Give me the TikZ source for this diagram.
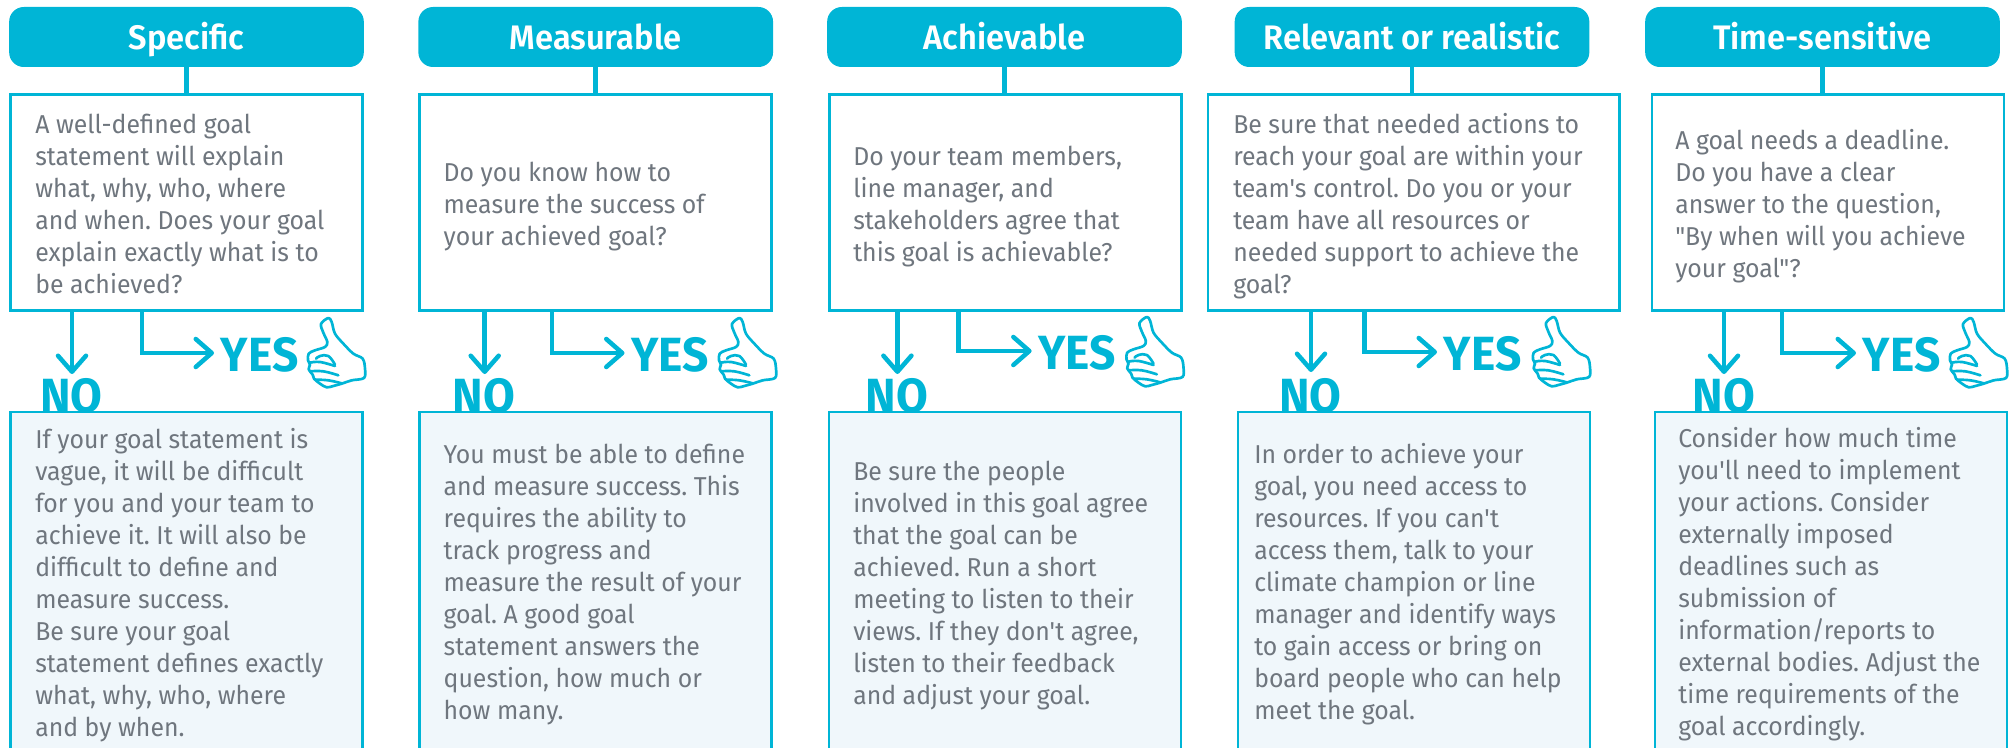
\documentclass[tikz,border=0pt]{standalone}
\usepackage{fontspec}
\newfontfamily\smartfont[FakeStretch=0.96]{Fira Sans}
\newfontfamily\smartheavy[FakeStretch=0.96]{Fira Sans SemiBold}
\usetikzlibrary{arrows.meta}
\definecolor{smartblue}{HTML}{00B5D6}
\definecolor{smartgrey}{HTML}{6F767E}
\definecolor{smartpale}{HTML}{F0F7FB}
\tikzset{
  head/.style={fill=smartblue, rounded corners=11pt, minimum width=266pt, minimum height=45pt, inner sep=0pt, text=white, text height=19pt, text depth=0pt, font=\fontsize{25.5}{30}\smartheavy},
  askbox/.style={draw=smartblue, line width=2pt, fill=white, minimum width=264pt, minimum height=162pt},
  failbox/.style={draw=smartblue, line width=2pt, fill=smartpale, minimum width=264pt, minimum height=270pt},
  words/.style={anchor=north west, inner sep=0pt, align=left, text=smartgrey, font=\fontsize{19.4}{24}\smartfont\frenchspacing},
  stem/.style={draw=smartblue, line width=3.6pt},
  flow/.style={draw=smartblue, line width=3.4pt, -{Straight Barb[length=12pt,width=21pt,round]}},
  bigword/.style={inner sep=0pt, text=smartblue, font=\fontsize{36}{36}\smartfont\bfseries},
  yesword/.style={bigword, anchor=west, inner xsep=5pt, text height=27pt, text depth=0pt},
  noword/.style={bigword, anchor=base},
  thumbup/.pic={
    \begin{scope}[x=0.25pt, y=-0.25pt, draw=smartblue, line width=2pt, line cap=round, line join=round]
      \draw plot [smooth cycle, tension=0.55] coordinates {(85,18) (63,36) (70,62) (82,90) (75,105) (45,115) (26,125) (24,145) (30,158) (26,172) (38,188) (42,200) (60,215) (80,226) (100,222) (125,215) (155,205) (192,198) (195,170) (188,140) (160,125) (130,95) (105,65) (95,30)};
      \draw plot [smooth, tension=0.7] coordinates {(48,140) (60,132) (85,132) (105,158)};
      \draw plot [smooth, tension=0.7] coordinates {(30,152) (60,150) (105,162)};
      \draw plot [smooth, tension=0.7] coordinates {(30,178) (70,178) (115,190)};
      \draw plot [smooth, tension=0.7] coordinates {(45,203) (85,205) (125,214)};
    \end{scope}
  },
}
\begin{document}
\begin{tikzpicture}[x=0.75pt, y=-0.75pt]
    \useasboundingbox (0,0) rectangle (2015,748);
    \clip (0,0) rectangle (2015,748);

    \node [head] (head1) at (186.5,37) {Specific};
    \node [askbox] (ask1) at (186.5,202.5) {};
    \node [words] (asktext1) at (35,110.6) {\strut A well-defined goal\\statement will explain\\what, why, who, where\\and when. Does your goal\\explain exactly what is to\\be achieved?};
    \coordinate (notip1) at (72,374);
    \coordinate (yesturn1) at (142,353);
    \node [yesword] (yes1) at (214,353) {YES};
    \node [noword] (no1) at (71.5,412) {NO};
    \pic at (300,312) {thumbup};
    \node [failbox] (fail1) at (186.5,592) {};
    \node [words] (failtext1) at (35,425.6) {\strut If your goal statement is\\vague, it will be difficult\\for you and your team to\\achieve it. It will also be\\difficult to define and\\measure success.\\Be sure your goal\\statement defines exactly\\what, why, who, where\\and by when.};
    \draw [stem] (head1.south) -- (ask1.north -| head1.south);
    \draw [flow] (ask1.south -| notip1) -- (notip1);
    \draw [flow] (ask1.south -| yesturn1) |- (yes1.west);

    \node [head] (head2) at (595.7,37) {Measurable};
    \node [askbox] (ask2) at (595.7,202.5) {};
    \node [words] (asktext2) at (443.4,158.6) {\strut Do you know how to\\measure the success of\\your achieved goal?};
    \coordinate (notip2) at (484.7,374);
    \coordinate (yesturn2) at (552,353);
    \node [yesword] (yes2) at (624.5,353) {YES};
    \node [noword] (no2) at (484,412) {NO};
    \pic at (711,312) {thumbup};
    \node [failbox] (fail2) at (595.7,592) {};
    \node [words] (failtext2) at (443.4,440.6) {\strut You must be able to define\\and measure success. This\\requires the ability to\\track progress and\\measure the result of your\\goal. A good goal\\statement answers the\\question, how much or\\how many.};
    \draw [stem] (head2.south) -- (ask2.north -| head2.south);
    \draw [flow] (ask2.south -| notip2) -- (notip2);
    \draw [flow] (ask2.south -| yesturn2) |- (yes2.west);

    \node [head] (head3) at (1004.5,37) {Achievable};
    \node [askbox] (ask3) at (1005.3,202.5) {};
    \node [words] (asktext3) at (853,142.6) {\strut Do your team members,\\line manager, and\\stakeholders agree that\\this goal is achievable?};
    \coordinate (notip3) at (897.4,374);
    \coordinate (yesturn3) at (958.7,351);
    \node [yesword] (yes3) at (1031.6,351) {YES};
    \node [noword] (no3) at (897,412) {NO};
    \pic at (1118.5,311) {thumbup};
    \node [failbox] (fail3) at (1005,592) {};
    \node [words] (failtext3) at (853,457.6) {\strut Be sure the people\\involved in this goal agree\\that the goal can be\\achieved. Run a short\\meeting to listen to their\\views. If they don't agree,\\listen to their feedback\\and adjust your goal.};
    \draw [stem] (head3.south) -- (ask3.north -| head3.south);
    \draw [flow] (ask3.south -| notip3) -- (notip3);
    \draw [flow] (ask3.south -| yesturn3) |- (yes3.west);

    \node [head] (head4) at (1412,37) {Relevant or realistic};
    \node [askbox, minimum width=308.6pt] (ask4) at (1413.75,202.5) {};
    \node [words] (asktext4) at (1233,110.6) {\strut Be sure that needed actions to\\reach your goal are within your\\team's control. Do you or your\\team have all resources or\\needed support to achieve the\\goal?};
    \coordinate (notip4) at (1311,372);
    \coordinate (yesturn4) at (1364.7,352);
    \node [yesword] (yes4) at (1437,352) {YES};
    \node [noword] (no4) at (1310.5,412) {NO};
    \pic at (1525,311) {thumbup};
    \node [failbox] (fail4) at (1414,592) {};
    \node [words] (failtext4) at (1254,440.6) {\strut In order to achieve your\\goal, you need access to\\resources. If you can't\\access them, talk to your\\climate champion or line\\manager and identify ways\\to gain access or bring on\\board people who can help\\meet the goal.};
    \draw [stem] (head4.south) -- (ask4.north -| head4.south);
    \draw [flow] (ask4.south -| notip4) -- (notip4);
    \draw [flow] (ask4.south -| yesturn4) |- (yes4.west);

    \node [head] (head5) at (1822.5,37) {Time-sensitive};
    \node [askbox] (ask5) at (1828,202.5) {};
    \node [words] (asktext5) at (1675,126.6) {\strut A goal needs a deadline.\\Do you have a clear\\answer to the question,\\"By when will you achieve\\your goal"?};
    \coordinate (notip5) at (1724,374);
    \coordinate (yesturn5) at (1782,353);
    \node [yesword] (yes5) at (1856,353) {YES};
    \node [noword] (no5) at (1724,412) {NO};
    \pic at (1942,312) {thumbup};
    \node [failbox] (fail5) at (1831,592) {};
    \node [words] (failtext5) at (1678,424.6) {\strut Consider how much time\\you'll need to implement\\your actions. Consider\\externally imposed\\deadlines such as\\submission of\\information/reports to\\external bodies. Adjust the\\time requirements of the\\goal accordingly.};
    \draw [stem] (head5.south) -- (ask5.north -| head5.south);
    \draw [flow] (ask5.south -| notip5) -- (notip5);
    \draw [flow] (ask5.south -| yesturn5) |- (yes5.west);
\end{tikzpicture}
\end{document}
